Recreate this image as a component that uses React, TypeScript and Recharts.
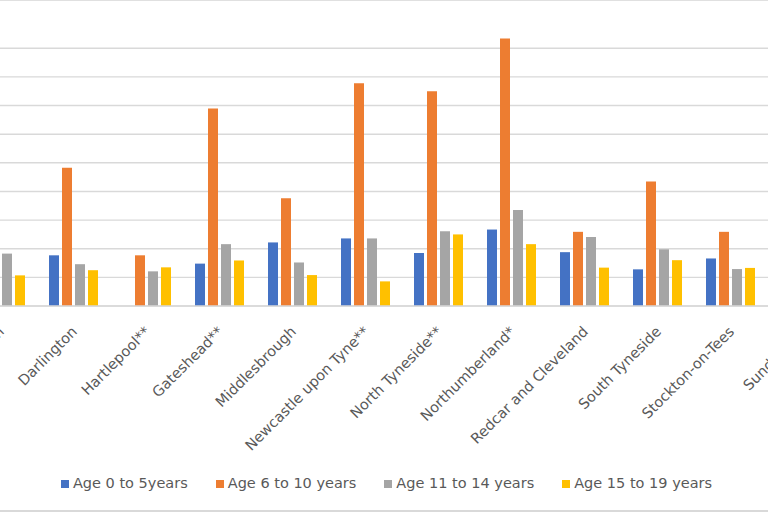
import React from 'react';
import { BarChart, Bar, XAxis, YAxis, CartesianGrid, Legend } from 'recharts';

const areas = [
  'County Durham',
  'Darlington',
  'Hartlepool**',
  'Gateshead**',
  'Middlesbrough',
  'Newcastle upon Tyne**',
  'North Tyneside**',
  'Northumberland*',
  'Redcar and Cleveland',
  'South Tyneside',
  'Stockton-on-Tees',
  'Sunderland',
];

const age0to5 = [20, 17.7, null, 14.8, 22.2, 23.6, 18.5, 26.7, 18.8, 12.8, 16.6, 19];
const age6to10 = [42, 48.3, 17.7, 69, 37.6, 77.8, 75, 93.4, 25.9, 43.5, 25.9, 40];
const age11to14 = [18.3, 14.6, 12.1, 21.6, 15.2, 23.6, 26.1, 33.5, 24.1, 19.8, 12.9, 18];
const age15to19 = [10.7, 12.5, 13.5, 15.9, 10.8, 8.6, 25, 21.6, 13.4, 16, 13.3, 14];

const seriesNames = ['Age 0 to 5years', 'Age 6 to 10 years', 'Age 11 to 14 years', 'Age 15 to 19 years'];

const yTicks = [0, 10, 20, 30, 40, 50, 60, 70, 80, 90, 100, 110];

const data = areas.map((area, i) => ({
  area,
  a: age0to5[i],
  b: age6to10[i],
  c: age11to14[i],
  d: age15to19[i],
}));

const FONT = '"DejaVu Sans", sans-serif';
const TEXT = '#595959';

function AreaTick({ x, y, payload }: any) {
  return (
    <g transform={`translate(${x + 1},${y + 15})`}>
      <text
        x={0}
        y={0}
        dy={5}
        textAnchor="end"
        transform="rotate(-45)"
        fill={TEXT}
        fontSize={14.5}
        fontFamily={FONT}
      >
        {payload.value}
      </text>
    </g>
  );
}

export default function App() {
  return (
    <div
      style={{
        position: 'absolute',
        left: 0,
        top: 0,
        width: 768,
        height: 512,
        overflow: 'hidden',
        background: '#fff',
      }}
    >
      <div style={{ position: 'absolute', left: 0, right: 0, top: 0, height: 1, background: '#e0e0e0', zIndex: 2 }} />
      <div style={{ position: 'absolute', left: 0, right: 0, bottom: 0, height: 2, background: '#d9d9d9', zIndex: 2 }} />
      <div style={{ position: 'absolute', left: -36, top: -9 }}>
        <BarChart
          width={886}
          height={525}
          data={data}
          margin={{ top: 0, right: 10, bottom: 10, left: 0 }}
          barCategoryGap={12}
          barGap={3}
        >
          <CartesianGrid vertical={false} stroke="#d9d9d9" strokeWidth={1.4} />
          <XAxis
            dataKey="area"
            interval={0}
            height={200}
            tickLine={false}
            axisLine={{ stroke: '#d9d9d9', strokeWidth: 1.4 }}
            tick={<AreaTick />}
          />
          <YAxis hide domain={[0, 110]} ticks={yTicks} />
          <Legend
            layout="horizontal"
            verticalAlign="middle"
            align="center"
            iconType="square"
            iconSize={8}
            itemSorter={(item: any) => seriesNames.indexOf(item.value)}
            wrapperStyle={{
              top: 484,
              left: 14,
              width: 845,
              fontFamily: FONT,
              fontSize: 14.5,
            }}
            formatter={(value: string) => <span style={{ color: TEXT, marginRight: 18 }}>{value}</span>}
          />
          <Bar dataKey="a" name={seriesNames[0]} fill="#4472C4" isAnimationActive={false} />
          <Bar dataKey="b" name={seriesNames[1]} fill="#ED7D31" isAnimationActive={false} />
          <Bar dataKey="c" name={seriesNames[2]} fill="#A5A5A5" isAnimationActive={false} />
          <Bar dataKey="d" name={seriesNames[3]} fill="#FFC000" isAnimationActive={false} />
        </BarChart>
      </div>
    </div>
  );
}
